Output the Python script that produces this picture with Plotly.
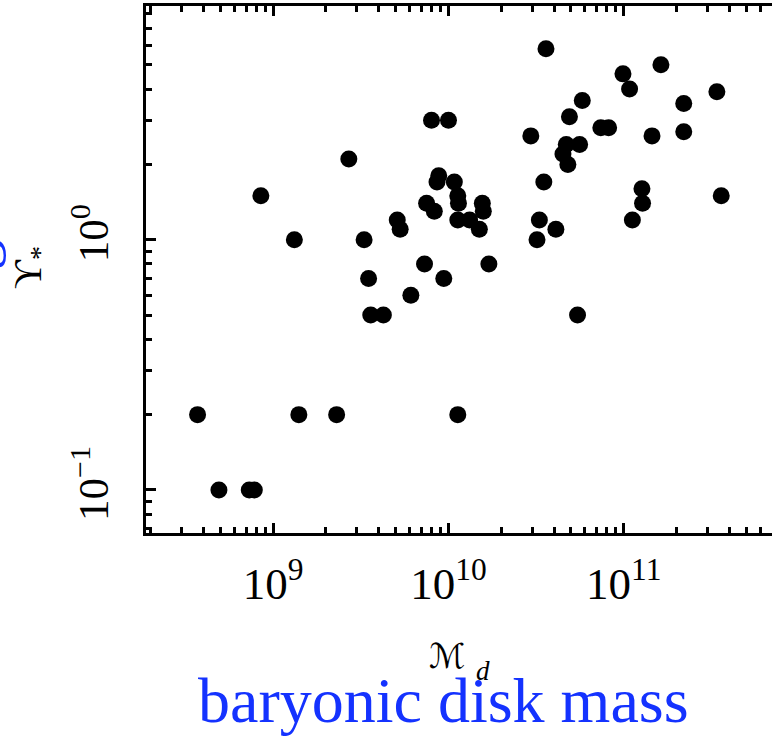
import plotly.graph_objects as go

# Baryonic disk mass (solar masses) and stellar mass-to-light ratio
disk_mass = [3.7e8, 4.9e8, 7.3e8, 7.8e8, 8.5e8, 1.32e9, 1.4e9, 2.3e9, 2.7e9, 3.3e9,
             3.5e9, 3.6e9, 4.25e9, 5.1e9, 5.3e9, 6.1e9, 7.3e9, 7.5e9, 8.0e9, 8.3e9,
             8.6e9, 8.8e9, 9.4e9, 1.0e10, 1.08e10, 1.13e10, 1.13e10, 1.14e10, 1.13e10, 1.32e10,
             1.5e10, 1.56e10, 1.58e10, 1.7e10, 2.95e10, 3.2e10, 3.3e10, 3.5e10, 3.6e10, 4.1e10,
             4.5e10, 4.7e10, 4.8e10, 4.9e10, 5.45e10, 5.6e10, 5.8e10, 7.4e10, 8.2e10, 9.9e10,
             1.08e11, 1.12e11, 1.27e11, 1.28e11, 1.45e11, 1.63e11, 2.2e11, 2.2e11, 3.4e11, 3.6e11]
upsilon = [0.2, 0.1, 0.1, 0.1, 1.5, 1.0, 0.2, 0.2, 2.1, 1.0,
           0.7, 0.5, 0.5, 1.2, 1.1, 0.6, 0.8, 1.4, 3.0, 1.3,
           1.7, 1.8, 0.7, 3.0, 1.7, 1.5, 1.2, 1.4, 0.2, 1.2,
           1.1, 1.4, 1.3, 0.8, 2.6, 1.0, 1.2, 1.7, 5.8, 1.1,
           2.2, 2.4, 2.0, 3.1, 0.5, 2.4, 3.6, 2.8, 2.8, 4.6,
           4.0, 1.2, 1.6, 1.4, 2.6, 5.0, 3.5, 2.7, 3.9, 1.5]

# Axis ticks
x_major = [1e9, 1e10, 1e11]
x_major_text = ["10<sup>9</sup>", "10<sup>10</sup>", "10<sup>11</sup>"]
y_major = [0.1, 1.0]
y_major_text = ["10<sup>−1</sup>", "10<sup>0</sup>"]
x_decades = [1e8, 1e9, 1e10, 1e11]
y_decades = [0.01, 0.1, 1.0]
minor_digits = [2, 3, 4, 5, 6, 7, 8, 9]

x_range_log = [8.274, 11.846]
y_range_log = [-1.172, 0.934]

SERIF = "Liberation Serif, Times New Roman, serif"
BLUE = "#1432FF"

x_minor = [d * m for d in x_decades for m in minor_digits]
y_minor = [d * m for d in y_decades for m in minor_digits]

fig = go.Figure(
    go.Scatter(
        x=disk_mass, y=upsilon, mode="markers",
        marker=dict(size=17, color="black", line=dict(width=0)),
        hoverinfo="x+y",
    )
)

def minor_spec(vals):
    return dict(ticks="inside", ticklen=6, tickwidth=3, tickcolor="black",
                showgrid=False, tickmode="array", tickvals=vals)

fig.update_layout(
    width=772, height=739,
    margin=dict(l=146, r=0, t=6, b=206),
    paper_bgcolor="white", plot_bgcolor="white",
    showlegend=False,
    xaxis=dict(
        type="log", range=x_range_log,
        tickmode="array", tickvals=x_major, ticktext=x_major_text,
        showline=True, linewidth=3, linecolor="black", mirror="ticks",
        ticks="inside", ticklen=10, tickwidth=3, tickcolor="black",
        showgrid=False, zeroline=False,
        tickfont=dict(family=SERIF, size=45, color="black"),
        ticklabelstandoff=9,
        minor=minor_spec(x_minor),
    ),
    yaxis=dict(
        type="log", range=y_range_log,
        tickmode="array", tickvals=y_major, ticktext=y_major_text,
        showline=True, linewidth=3, linecolor="black", mirror=False,
        ticks="inside", ticklen=10, tickwidth=3, tickcolor="black",
        showgrid=False, zeroline=False, tickangle=-90,
        tickfont=dict(family=SERIF, size=43, color="black"),
        ticklabelstandoff=18,
        minor=minor_spec(y_minor),
    ),
    yaxis2=dict(
        type="log", range=y_range_log, overlaying="y", side="right",
        tickmode="array", tickvals=y_major,
        showline=False, ticks="inside", ticklen=10, tickwidth=3, tickcolor="black",
        showticklabels=False, showgrid=False, zeroline=False,
        minor=minor_spec(y_minor),
    ),
)

def px_x(p):
    return (p - 146) / 626.0

def px_y(p):
    return (533 - p) / 527.0

fig.add_annotation(  # y-axis symbol
    text="ϒ<sub>*</sub>", textangle=-90, showarrow=False,
    xref="paper", yref="paper", x=px_x(30), y=px_y(268),
    xanchor="center", yanchor="middle",
    font=dict(family=SERIF, size=40, color="black"),
)
fig.add_annotation(  # cropped blue description of the y quantity
    text="mass-to-light ratio", textangle=-90, showarrow=False,
    xref="paper", yref="paper", x=px_x(8), y=px_y(290),
    xanchor="right", yanchor="middle",
    font=dict(family=SERIF, size=62, color=BLUE),
)
fig.add_annotation(  # x-axis symbol
    text="ℳ", showarrow=False,
    xref="paper", yref="paper", x=px_x(447), y=px_y(656),
    xanchor="center", yanchor="middle",
    font=dict(family="DejaVu Sans, serif", size=34, color="black"),
)
fig.add_annotation(
    text="<i>d</i>", showarrow=False,
    xref="paper", yref="paper", x=px_x(483), y=px_y(671),
    xanchor="center", yanchor="middle",
    font=dict(family=SERIF, size=27, color="black"),
)
fig.add_annotation(  # blue description of the x quantity
    text="baryonic disk mass", showarrow=False,
    xref="paper", yref="paper", x=px_x(443), y=px_y(700),
    xanchor="center", yanchor="middle",
    font=dict(family=SERIF, size=64, color=BLUE),
)

fig.write_html("out.html")
